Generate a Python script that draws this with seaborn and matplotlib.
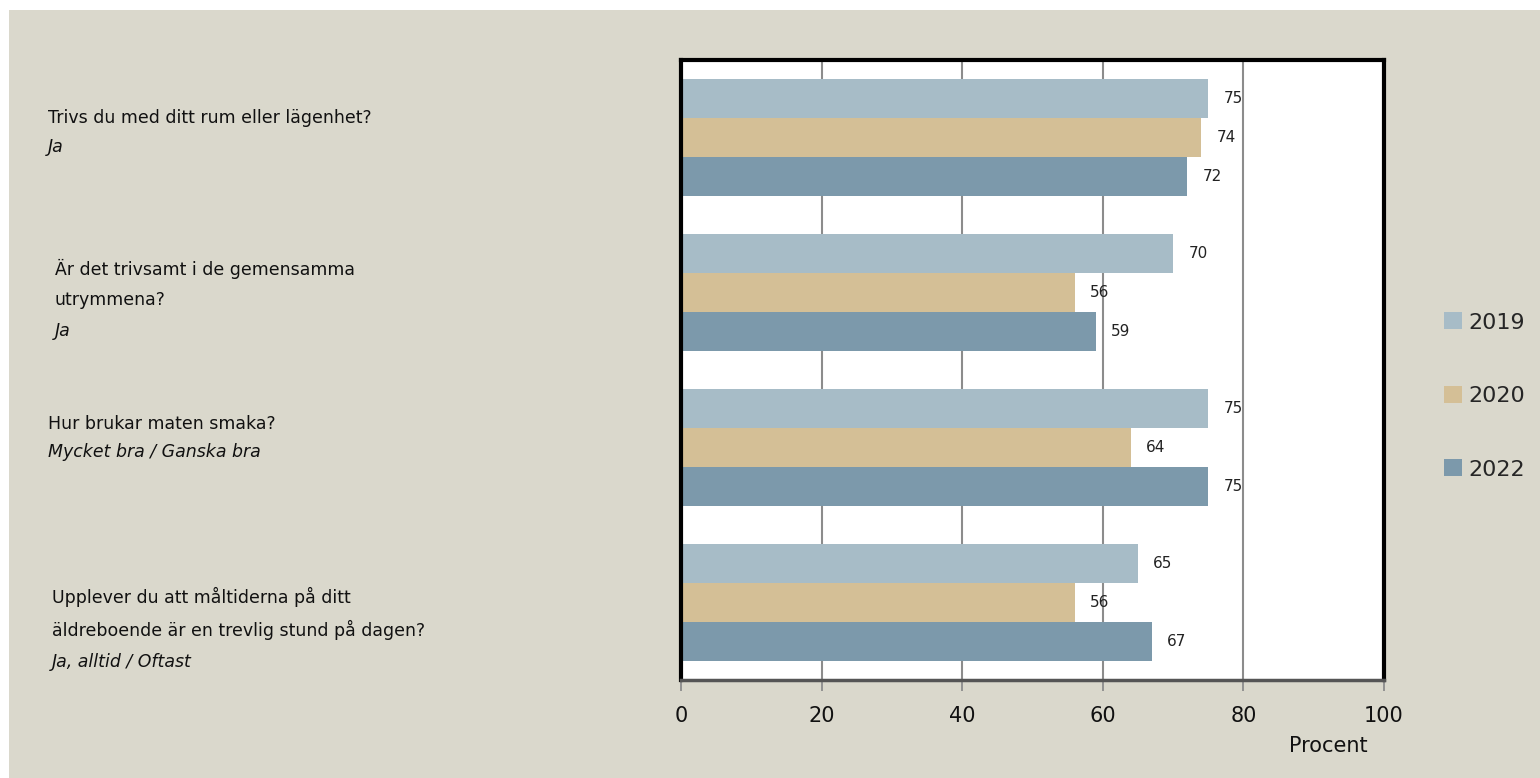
import matplotlib
matplotlib.use("Agg")
import matplotlib.pyplot as plt
import seaborn as sns
import pandas as pd
from matplotlib.patches import Rectangle

# ---- data ----
questions = ["Q1", "Q2", "Q3", "Q4"]
years = ["2019", "2020", "2022"]
values_2019 = [75, 70, 75, 65]
values_2020 = [74, 56, 64, 56]
values_2022 = [72, 59, 75, 67]
x_ticks = [0, 20, 40, 60, 80, 100]
question_lines = [
    ["Trivs du med ditt rum eller lägenhet?"],
    ["Är det trivsamt i de gemensamma", "utrymmena?"],
    ["Hur brukar maten smaka?"],
    ["Upplever du att måltiderna på ditt", "äldreboende är en trevlig stund på dagen?"],
]
answer_lines = ["Ja", "Ja", "Mycket bra / Ganska bra", "Ja, alltid / Oftast"]
x_label = "Procent"

colors = ["#A7BCC7", "#D4BF96", "#7C99AB"]
bg = "#DAD8CC"

rows = []
for y, vals in zip(years, [values_2019, values_2020, values_2022]):
    for q, v in zip(questions, vals):
        rows.append({"question": q, "year": y, "value": v})
df = pd.DataFrame(rows)

sns.set_style("white")
plt.rcParams["font.family"] = ["DejaVu Sans"]

W, H = 1540, 778
fig = plt.figure(figsize=(W / 100, H / 100), dpi=100)
fig.patch.set_facecolor("white")
fig.patches.append(Rectangle((9 / W, 0), 1, (H - 10) / H, transform=fig.transFigure,
                             facecolor=bg, edgecolor="none", zorder=-10))

ax = fig.add_axes([681 / W, (H - 680) / H, (1384 - 681) / W, (680 - 60) / H])
ax.set_facecolor("white")

sns.barplot(data=df, y="question", x="value", hue="year", order=questions,
            hue_order=years, palette=colors, orient="h", width=0.75,
            saturation=1, ax=ax, edgecolor="none", linewidth=0, gap=0)

for cont in ax.containers:
    ax.bar_label(cont, padding=11, fontsize=11, color="#222222")

ax.set_xlim(0, 100)
ax.set_xticks(x_ticks)
ax.set_xticklabels([str(t) for t in x_ticks], fontsize=15)
ax.set_yticks([])
ax.set_ylabel("")
ax.set_xlabel("")
ax.grid(axis="x", color="#8C8C8C", linewidth=1.5)
ax.set_axisbelow(True)
ax.tick_params(axis="x", bottom=True, direction="out", length=8, width=1.3,
               color="#8C8C8C", pad=11, labelcolor="#111111")

for side in ["left", "top", "right"]:
    ax.spines[side].set_color("black")
    ax.spines[side].set_linewidth(3)
ax.spines["bottom"].set_color("#555555")
ax.spines["bottom"].set_linewidth(2.5)

handles, labels = ax.get_legend_handles_labels()
ax.legend(handles, labels, loc="center left",
          bbox_to_anchor=(1433 / W, (H - 396) / H), bbox_transform=fig.transFigure,
          frameon=False, fontsize=16, labelspacing=2.4, handlelength=0.8,
          handleheight=0.8, handletextpad=0.3, borderpad=0)

# left category labels
label_pos = [
    (48, [118], 147),
    (55, [269, 300], 331),
    (48, [424], 452),
    (52, [597, 630], 662),
]
for (x, ys, ya), qlines, ans in zip(label_pos, question_lines, answer_lines):
    for yy, line in zip(ys, qlines):
        fig.text(x / W, (H - yy) / H, line, fontsize=12.5, va="center", ha="left", color="#111111")
    fig.text(x / W, (H - ya) / H, ans, fontsize=12.5, va="center", ha="left",
             style="italic", color="#111111")

fig.text(1368 / W, (H - 746) / H, x_label, fontsize=15, ha="right", va="center", color="#111111")

fig.savefig("out.png", dpi=100, facecolor=fig.get_facecolor())
